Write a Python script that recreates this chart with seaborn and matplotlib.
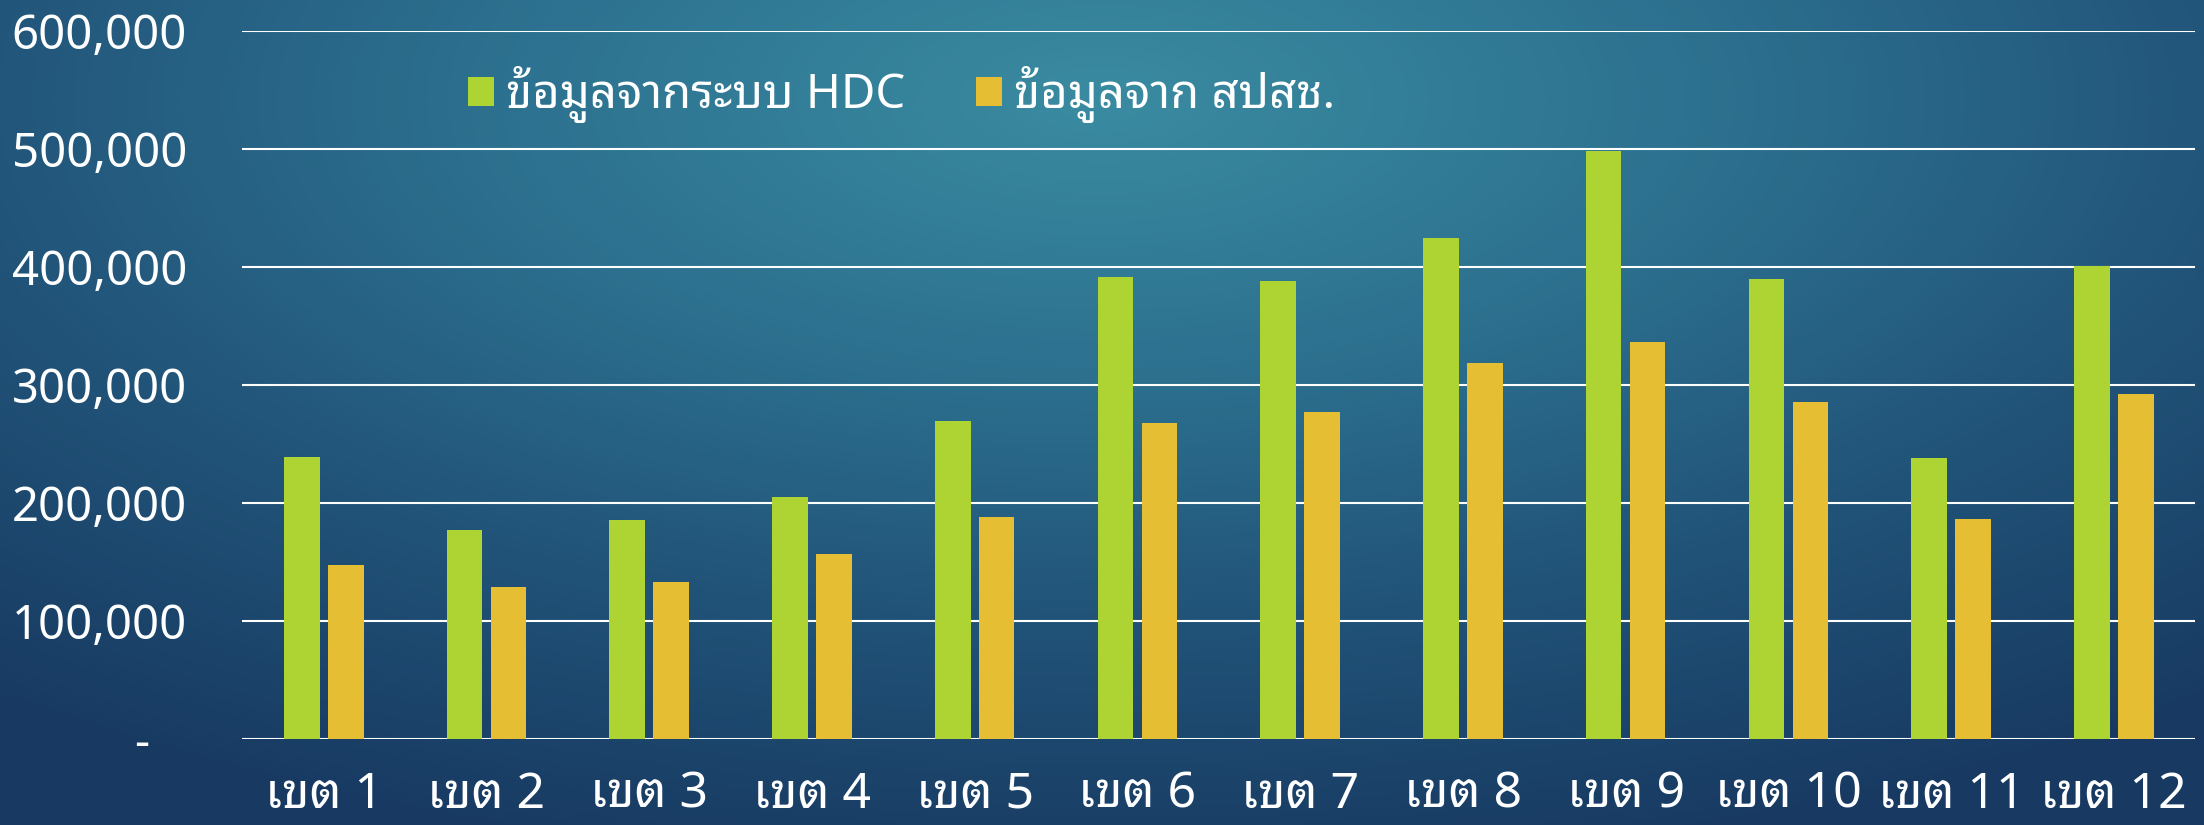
import numpy as np
import pandas as pd
import matplotlib
matplotlib.use("Agg")
import matplotlib.pyplot as plt
import matplotlib.ticker as mticker
from matplotlib.colors import LinearSegmentedColormap
from matplotlib.patches import Patch
import seaborn as sns

# data
zones = ["เขต 1", "เขต 2", "เขต 3", "เขต 4", "เขต 5", "เขต 6",
         "เขต 7", "เขต 8", "เขต 9", "เขต 10", "เขต 11", "เขต 12"]
hdc = [239000, 177000, 186000, 205000, 270000, 392000,
       388000, 425000, 499000, 390000, 238000, 401000]
sps = [148000, 129000, 133000, 157000, 188000, 268000,
       277000, 319000, 337000, 286000, 187000, 293000]
series_names = ["ข้อมูลจากระบบ HDC", "ข้อมูลจาก สปสช."]
colors = ["#ADD433", "#E6BE33"]

df = pd.DataFrame({
    "zone": zones * 2,
    "value": hdc + sps,
    "source": [series_names[0]] * len(zones) + [series_names[1]] * len(zones),
})

sns.set_theme(style="white")
plt.rcParams["font.family"] = ["Noto Sans Thai Looped", "DejaVu Sans"]

fig = plt.figure(figsize=(22.04, 8.25), dpi=100)

# background: dark blue with a teal glow near the top middle
bg = fig.add_axes([0, 0, 1, 1], zorder=0)
yy, xx = np.mgrid[0:1:300j, 0:1:800j]
d = np.sqrt(((xx - 0.5) * 1.2) ** 2 + ((yy - 0.12) * 1.0) ** 2)
bg_cmap = LinearSegmentedColormap.from_list("bg", ["#3a8ba1", "#2d7290", "#215378", "#183a62"])
bg.imshow(d, cmap=bg_cmap, aspect="auto", extent=[0, 1, 0, 1], origin="upper", vmin=0, vmax=0.95)
bg.axis("off")

ax = fig.add_axes([0.110, 0.104, 0.886, 0.858], zorder=1)
ax.patch.set_alpha(0)
sns.barplot(data=df, x="zone", y="value", hue="source", palette=colors,
            width=0.54, gap=0.19, saturation=1, linewidth=0, ax=ax, legend=False)

ax.set_ylim(0, 600000)
ax.set_yticks(range(0, 600001, 100000))
ax.yaxis.set_major_formatter(mticker.FuncFormatter(lambda v, p: "-   " if v == 0 else f"{v:,.0f}"))
ax.grid(axis="y", color="white", linewidth=1.5)
ax.set_axisbelow(True)
for s in ax.spines.values():
    s.set_visible(False)
ax.set_xlabel("")
ax.set_ylabel("")
ax.tick_params(axis="y", colors="white", labelsize=34, length=0, pad=40)
ax.tick_params(axis="x", colors="white", labelsize=36, length=0, pad=22)

handles = [Patch(facecolor=c, edgecolor="none") for c in colors]
fig.legend(handles, series_names, loc="center left", bbox_to_anchor=(0.193, 0.885),
           ncol=2, frameon=False, fontsize=34, labelcolor="white",
           handlelength=0.55, handleheight=0.55, handletextpad=0.25, columnspacing=1.5)

fig.savefig("out.png", dpi=100)
